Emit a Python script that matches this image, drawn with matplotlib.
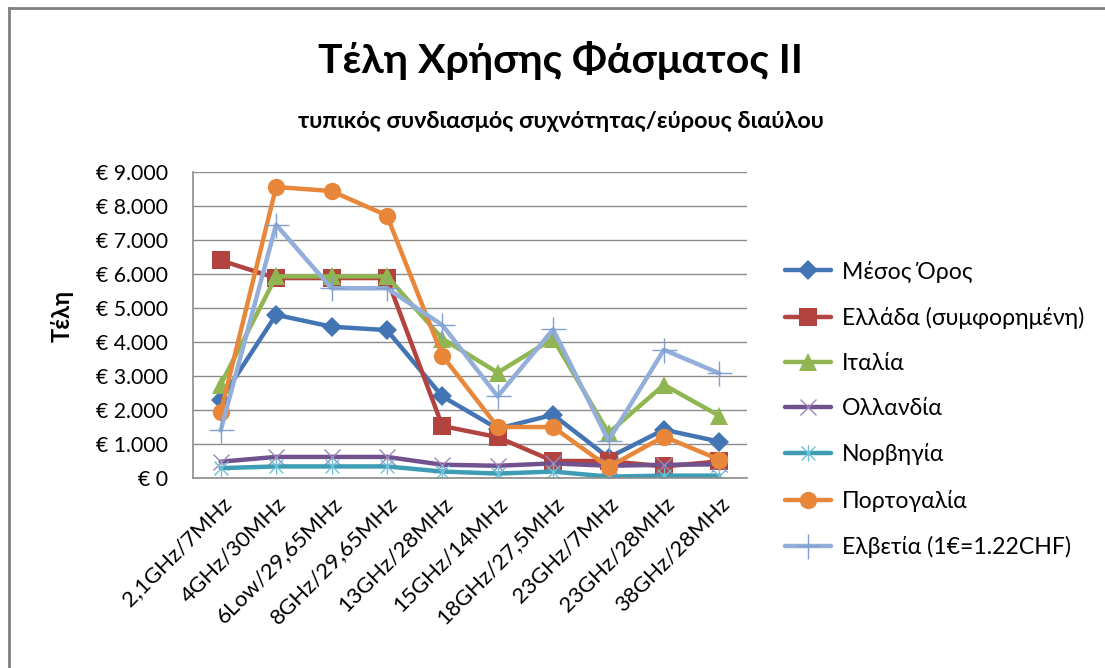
import matplotlib
matplotlib.use("Agg")
import matplotlib.pyplot as plt
from matplotlib.path import Path
from matplotlib.lines import Line2D
from matplotlib.ticker import FuncFormatter, MultipleLocator

plt.rcParams['font.family'] = ['Lato', 'DejaVu Sans']

categories = ["2,1GHz/7MHz", "4GHz/30MHz", "6Low/29,65MHz", "8GHz/29,65MHz",
              "13GHz/28MHz", "15GHz/14MHz", "18GHz/27,5MHz", "23GHz/7MHz",
              "23GHz/28MHz", "38GHz/28MHz"]

mesos_oros = [2300, 4800, 4450, 4350, 2400, 1450, 1860, 600, 1420, 1070]
ellada = [6400, 5880, 5880, 5880, 1530, 1200, 500, 500, 340, 490]
italia = [2750, 5930, 5930, 5930, 4100, 3100, 4100, 1320, 2740, 1830]
ollandia = [480, 620, 620, 620, 390, 360, 430, 360, 390, 400]
norvigia = [290, 340, 340, 340, 190, 130, 190, 40, 70, 70]
portogalia = [1930, 8560, 8440, 7720, 3600, 1500, 1500, 320, 1220, 540]
elvetia = [1400, 7450, 5580, 5580, 4500, 2400, 4370, 1100, 3770, 3080]

series_names = ["Μέσος Όρος", "Ελλάδα (συμφορημένη)", "Ιταλία", "Ολλανδία",
                "Νορβηγία", "Πορτογαλία", "Ελβετία (1€=1.22CHF)"]

title = "Τέλη Χρήσης Φάσματος ΙΙ"
subtitle = "τυπικός συνδιασμός συχνότητας/εύρους διαύλου"
ylabel = "Τέλη"

star = Path([(-1, -1), (1, 1), (-1, 1), (1, -1), (0, -1.2), (0, 1.2)],
            [Path.MOVETO, Path.LINETO, Path.MOVETO, Path.LINETO, Path.MOVETO, Path.LINETO])

styles = [
    dict(color='#4374B3', marker='D', ms=10, mew=0),
    dict(color='#B2433F', marker='s', ms=12.5, mew=0),
    dict(color='#8FB650', marker='^', ms=13, mew=0),
    dict(color='#71528F', marker='x', ms=12, mew=1.0, mec='#9A86B8'),
    dict(color='#3E9CB5', marker=star, ms=12, mew=1.0, mec='#6FC0D6', mfc='none'),
    dict(color='#E8873A', marker='o', ms=12.5, mew=0),
    dict(color='#93AFD9', marker='+', ms=18, mew=1.0, mec='#7F9FD0'),
]

data = [mesos_oros, ellada, italia, ollandia, norvigia, portogalia, elvetia]

fig = plt.figure(figsize=(11.05, 6.68), dpi=100)
ax = fig.add_axes([193/1105, (668-478)/668, (747-193)/1105, (478-172)/668])

x = list(range(len(categories)))
for vals, name, st in zip(data, series_names, styles):
    ax.plot(x, vals, lw=3.2, label=name, solid_capstyle='round', solid_joinstyle='round', **st)

ax.set_xlim(-0.5, len(categories) - 0.5)
ax.set_ylim(0, 9000)
ax.yaxis.set_major_locator(MultipleLocator(1000))

def euro(v, pos):
    if v == 0:
        return "€ 0"
    return "€ " + f"{int(v):,}".replace(",", ".")

ax.yaxis.set_major_formatter(FuncFormatter(euro))
ax.grid(axis='y', color='#8C8C8C', lw=1.0)
ax.set_axisbelow(True)
for s in ['top', 'right']:
    ax.spines[s].set_visible(False)
for s in ['left', 'bottom']:
    ax.spines[s].set_color('#8C8C8C')
    ax.spines[s].set_linewidth(1.2)
ax.tick_params(axis='y', length=0, labelsize=15.3, pad=18)
ax.tick_params(axis='x', length=0, labelsize=16, pad=11)
ax.set_xticks(x)
ax.set_xticklabels(categories, rotation=45, ha='right', va='top', rotation_mode='anchor')

ax.set_ylabel(ylabel, fontsize=17, fontweight='bold')
ax.yaxis.set_label_coords(74/1105, 1 - 316/668, transform=fig.transFigure)

fig.text(560/1105, 1 - 60/668, title, ha='center', va='center', fontsize=29.5, fontweight='bold')
fig.text(561/1105, 1 - 121/668, subtitle, ha='center', va='center', fontsize=16.9, fontweight='bold')

leg = ax.legend(loc='upper left', bbox_to_anchor=(773/1105, 1 - 249/668),
                bbox_transform=fig.transFigure, frameon=False, fontsize=16.6,
                handlelength=2.0, labelspacing=1.05, handletextpad=0.48, borderpad=0)

# chart border (partially cropped in the original)
fig.add_artist(Line2D([9/1105, 1], [1 - 8/668, 1 - 8/668], color='#808080', lw=2, transform=fig.transFigure))
fig.add_artist(Line2D([9/1105, 9/1105], [0, 1 - 8/668], color='#808080', lw=2, transform=fig.transFigure))

fig.savefig("out.png", dpi=100)
